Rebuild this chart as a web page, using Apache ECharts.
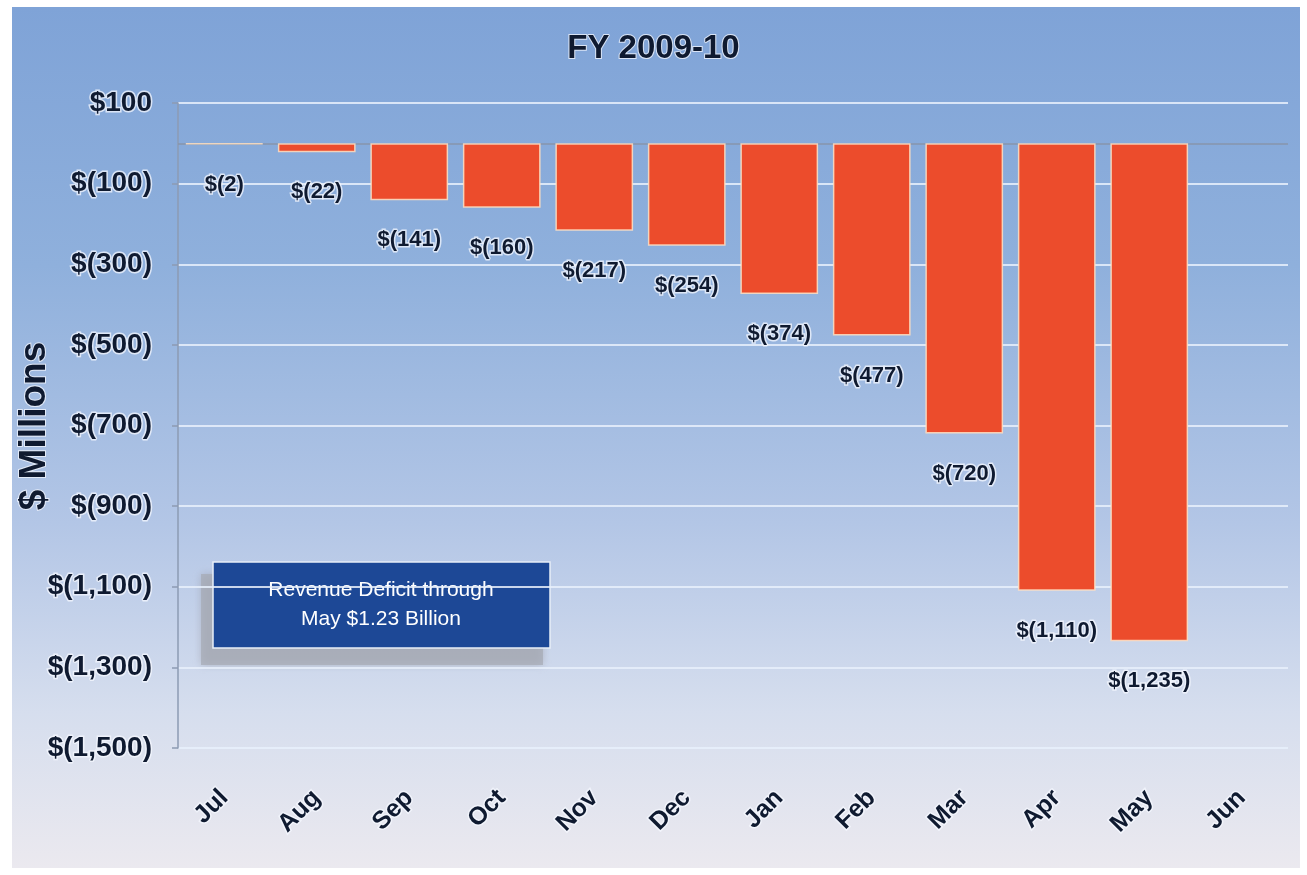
<!DOCTYPE html>
<html>
<head>
<meta charset="utf-8">
<title>FY 2009-10 Revenue Deficit</title>
<script src="https://cdn.jsdelivr.net/npm/echarts@6/dist/echarts.min.js"></script>
<style>
  html, body { margin: 0; padding: 0; background: #ffffff; }
  #chart { width: 1307px; height: 875px; }
</style>
</head>
<body>
<div id="chart"></div>
<script>
// Cumulative revenue deficit by month, $ millions
const months = ['Jul', 'Aug', 'Sep', 'Oct', 'Nov', 'Dec', 'Jan', 'Feb', 'Mar', 'Apr', 'May', 'Jun'];
const deficit = [-2, -22, -141, -160, -217, -254, -374, -477, -720, -1110, -1235, null];
const axisMin = -1500;
const axisMax = 100;
const axisStep = 200;
const axisTitle = '$ Millions';
const noteLines = ['Revenue Deficit through', 'May $1.23 Billion'];

const SANS = '"Liberation Sans", Arial, sans-serif';
const INK = '#0f1a30';
const HALO = 'rgba(245,248,255,0.75)';

function money(v) {
  const abs = Math.abs(v).toLocaleString('en-US');
  return v < 0 ? '$(' + abs + ')' : '$' + abs;
}

const chart = echarts.init(document.getElementById('chart'), null, { renderer: 'canvas' });

chart.setOption({
  backgroundColor: '#ffffff',
  animation: false,
  title: {
    text: 'FY 2009-10',
    left: 'center',
    top: 27,
    textStyle: {
      fontFamily: SANS, fontWeight: 'bold', fontSize: 33, color: INK,
      textBorderColor: HALO, textBorderWidth: 2
    }
  },
  graphic: [
    {
      type: 'rect', z: -10, silent: true,
      shape: { x: 12, y: 7, width: 1288, height: 861 },
      style: {
        fill: new echarts.graphic.LinearGradient(0, 0, 0, 1, [
          { offset: 0, color: '#7fa3d7' },
          { offset: 0.3, color: '#8fb0dc' },
          { offset: 0.6, color: '#b3c6e6' },
          { offset: 0.82, color: '#d6deee' },
          { offset: 1, color: '#ebe9ef' }
        ])
      }
    },
    {
      // vertical value-axis title
      type: 'text', z: 50,
      x: 35, y: 426, rotation: Math.PI / 2,
      style: {
        text: axisTitle, fill: INK,
        font: 'bold 37px ' + SANS,
        stroke: HALO, lineWidth: 2,
        textAlign: 'center', textVerticalAlign: 'middle'
      }
    },
    {
      type: 'group', z: 100,
      children: [
        {
          type: 'rect',
          shape: { x: 201, y: 574, width: 342, height: 91 },
          style: { fill: 'rgba(165,170,180,0.7)', shadowBlur: 8, shadowColor: 'rgba(150,150,160,0.7)' }
        },
        {
          type: 'rect',
          shape: { x: 213, y: 562, width: 337, height: 86 },
          style: { fill: '#1d4896', stroke: '#e8eef8', lineWidth: 1.5 }
        },
        {
          type: 'text',
          style: {
            x: 381, y: 590, text: noteLines[0], fill: '#ffffff',
            font: '21px ' + SANS, textAlign: 'center', textVerticalAlign: 'middle'
          }
        },
        {
          type: 'text',
          style: {
            x: 381, y: 619, text: noteLines[1], fill: '#ffffff',
            font: '21px ' + SANS, textAlign: 'center', textVerticalAlign: 'middle'
          }
        }
      ]
    }
  ],
  grid: { left: 178, right: 19, top: 103, bottom: 127, containLabel: false, outerBoundsMode: 'none' },
  xAxis: {
    type: 'category',
    data: months,
    axisLine: { show: false, onZero: false },
    axisTick: { show: false },
    axisLabel: {
      rotate: 45,
      margin: 46,
      interval: 0,
      fontFamily: SANS, fontWeight: 'bold', fontSize: 25, color: INK,
      textBorderColor: HALO, textBorderWidth: 3
    }
  },
  yAxis: {
    type: 'value',
    min: axisMin,
    max: axisMax,
    interval: axisStep,
    axisLine: { show: true, lineStyle: { color: '#8d9bb3', width: 1.5 } },
    axisTick: { show: true, length: 6, lineStyle: { color: '#8d9bb3', width: 1.5 } },
    axisLabel: {
      margin: 26,
      formatter: money,
      fontFamily: SANS, fontWeight: 'bold', fontSize: 28, color: INK,
      textBorderColor: HALO, textBorderWidth: 3
    },
    splitLine: { show: true, lineStyle: { color: 'rgba(232,240,252,0.85)', width: 2 } }
  },
  series: [
    {
      type: 'bar',
      data: deficit,
      barCategoryGap: '16%',
      z: 3,
      itemStyle: {
        color: '#ec4c2c',
        borderColor: 'rgba(255,225,195,0.85)',
        borderWidth: 1.5
      },
      label: {
        show: true,
        position: 'bottom',
        distance: 29,
        formatter: p => money(p.value),
        fontFamily: SANS, fontWeight: 'bold', fontSize: 22, color: INK,
        textBorderColor: HALO, textBorderWidth: 3
      },
      markLine: {
        silent: true,
        symbol: 'none',
        z: 1,
        label: { show: false },
        lineStyle: { color: '#8794ab', width: 1.5, type: 'solid' },
        data: [{ yAxis: 0 }]
      }
    }
  ]
});
</script>
</body>
</html>
